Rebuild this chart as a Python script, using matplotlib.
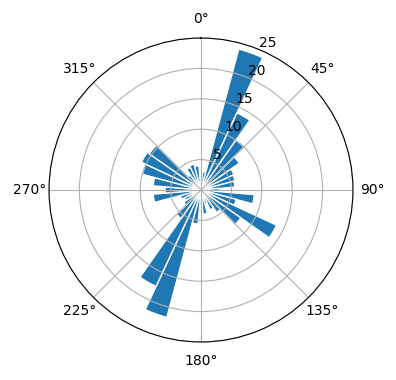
import numpy as np
import matplotlib
matplotlib.use("Agg")
import matplotlib.pyplot as plt

directions_deg = list(range(0, 360, 10))
counts = [1.5, 3, 24, 14, 10, 7.7, 6, 5.8, 5.6, 3,
          8.8, 6, 13.7, 8, 4.5, 3.6, 2.5, 4, 2.5, 5.6,
          21.7, 17.5, 5.7, 3.5, 3, 3.5, 7.9, 5.9, 7.9, 10,
          10.8, 10.4, 3, 4.1, 4.4, 4.0]

fig = plt.figure(figsize=(3.96, 3.8), dpi=100)
ax = fig.add_axes([(201 - 152) / 396, (380 - 190 - 152) / 380, 304 / 396, 304 / 380], projection="polar")
ax.set_theta_zero_location("N")
ax.set_theta_direction(-1)
theta = np.deg2rad(directions_deg)
ax.bar(theta, counts, width=np.deg2rad(10), bottom=0.0, color="#1f77b4", edgecolor="white", linewidth=1)
ax.set_ylim(0, 25)
ax.set_yticks([5, 10, 15, 20, 25])
fig.savefig("out.png", dpi=100)
